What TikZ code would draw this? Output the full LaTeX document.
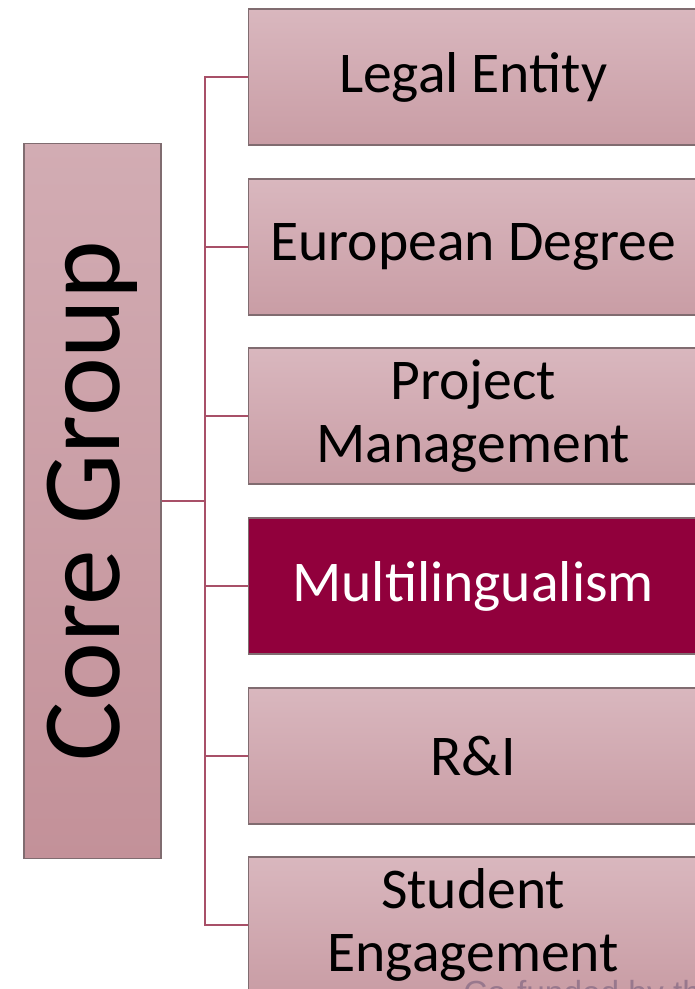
\documentclass[tikz,border=0pt]{standalone}
\usepackage{fontspec}
\setmainfont{Carlito}
\newfontfamily\footfont{Liberation Sans}
\usetikzlibrary{positioning}
\definecolor{boxtop}{RGB}{217,183,190}
\definecolor{boxbot}{RGB}{201,157,165}
\definecolor{coretop}{RGB}{210,172,179}
\definecolor{corebot}{RGB}{195,145,153}
\definecolor{boxborder}{RGB}{128,108,112}
\definecolor{crimson}{RGB}{145,0,60}
\definecolor{linkred}{RGB}{168,80,104}
\definecolor{footgray}{RGB}{120,95,125}

\begin{document}
\begin{tikzpicture}[x=0.02cm,y=-0.02cm,
  topic/.style={draw=boxborder, line width=0.8pt, top color=boxtop, bottom color=boxbot,
    minimum width=8.98cm, minimum height=2.72cm, anchor=west, inner sep=0pt,
    align=center, font=\fontsize{32.8}{35.5}\selectfont},
  hot/.style={topic, top color=crimson, bottom color=crimson, text=white},
  corebox/.style={draw=boxborder, line width=0.8pt, top color=coretop, bottom color=corebot,
    minimum width=2.74cm, minimum height=14.3cm, inner sep=0pt,
    font=\fontsize{63.5}{70}\selectfont},
  link/.style={draw=linkred, line width=1.1pt}]
\clip (0,0) rectangle (695,989);
% Core group
\node[corebox] (core) at (92.5,501) {\rotatebox{90}{Core Group}};
% Topics
\node[topic] (legal) at (248,77) {Legal Entity};
\node[topic] (degree) at (248,247) {European Degree};
\node[topic] (project) at (248,416) {Project\\Management};
\node[hot] (multi) at (248,586) {Multilingualism};
\node[topic] (ri) at (248,756) {R\&I};
\node[topic] (student) at (248,925) {Student\\Engagement};
% Connectors
\coordinate (bus) at (205,501);
\draw[link] (core.east) -- (bus);
\draw[link] (legal.west) -- (bus|-legal.west) -- (bus|-student.west) -- (student.west);
\draw[link] (bus|-degree.west) -- (degree.west);
\draw[link] (bus|-project.west) -- (project.west);
\draw[link] (bus|-multi.west) -- (multi.west);
\draw[link] (bus|-ri.west) -- (ri.west);
% Footer
\node[anchor=base west, inner sep=0pt, text=footgray, opacity=0.6,
  font=\footfont\fontsize{19}{22}\selectfont] (cofund) at (463,1004) {Co-funded by the};
\end{tikzpicture}
\end{document}
